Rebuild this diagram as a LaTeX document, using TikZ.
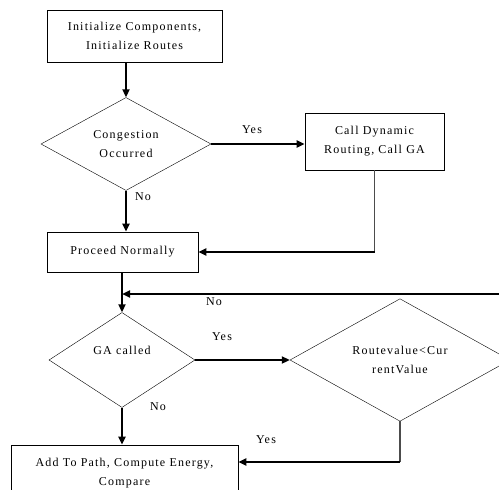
\documentclass[tikz,border=0pt]{standalone}
\usepackage{fontspec}
\setmainfont{Liberation Serif}[LetterSpace=10]
\usetikzlibrary{shapes.geometric,arrows.meta}
\tikzset{
  stepbox/.style={draw, line width=0.8pt, align=center, inner sep=0pt},
  decision/.style={draw, thin, diamond, align=center, inner sep=0pt},
  flow/.style={line width=2.2pt, -{Triangle[length=8pt,width=7pt]}},
  plain/.style={line width=1.1pt, black!70},
  answer/.style={inner sep=1pt}
}
\begin{document}
\begin{tikzpicture}[x=1pt, y=-1pt, font=\fontsize{12}{19}\selectfont]
    \useasboundingbox (0, 0) rectangle (499, 490);
    \clip (0, 0) rectangle (499, 490);
    % boxes and decisions
    \node[stepbox, minimum width=175pt, minimum height=52pt] (init) at (134.5, 36) {Initialize Components,\\Initialize Routes};
    \node[decision, minimum width=170pt, minimum height=93pt] (cong) at (126, 144) {Congestion\\Occurred};
    \node[stepbox, minimum width=139pt, minimum height=57pt] (dyn) at (374.5, 141.5) {Call Dynamic\\Routing, Call GA};
    \node[stepbox, minimum width=151pt, minimum height=40pt] (proceed) at (122.5, 252) {Proceed Normally};
    \node[decision, minimum width=146pt, minimum height=95pt] (ga) at (122, 360) {GA called\\\mbox{}};
    \node[decision, minimum width=220pt, minimum height=106pt] (cmp) at (400, 360) {Routevalue<Cur\\rentValue};
    \node[stepbox, minimum width=227pt, minimum height=54pt, text depth=0pt] (add) at (124.5, 472) {Add To Path, Compute Energy,\\Compare};
    % turning points
    \coordinate (loopin) at (499, 294);
    \coordinate (dynturn) at (dyn.south |- proceed.east);
    \coordinate (cmpturn) at (cmp.south |- 0, 462);
    % connectors
    \draw[flow] (cong.north |- init.south) -- (cong.north);
    \draw[flow] (cong.east) -- (cong.east -| dyn.west);
    \draw[flow] (cong.south) -- (cong.south |- proceed.north);
    \draw[plain] (dyn.south) -- (dynturn);
    \draw[flow] (dynturn) -- (proceed.east);
    \draw[flow] (ga.north |- proceed.south) -- (ga.north);
    \draw[flow] (loopin) -- (ga.north |- loopin);
    \draw[flow] (ga.east) -- (cmp.west);
    \draw[flow] (ga.south) -- (ga.south |- add.north);
    \draw[plain] (cmp.south) -- (cmpturn);
    \draw[flow] (cmpturn) -- (add.east |- cmpturn);
    % answers
    \node[answer] (congyes) at (252, 130) {Yes};
    \node[answer] (congno) at (143, 197) {No};
    \node[answer] (loopno) at (214, 302) {No};
    \node[answer] (gayes) at (222, 337) {Yes};
    \node[answer] (gano) at (158, 407) {No};
    \node[answer] (cmpyes) at (266, 440) {Yes};
\end{tikzpicture}
\end{document}
